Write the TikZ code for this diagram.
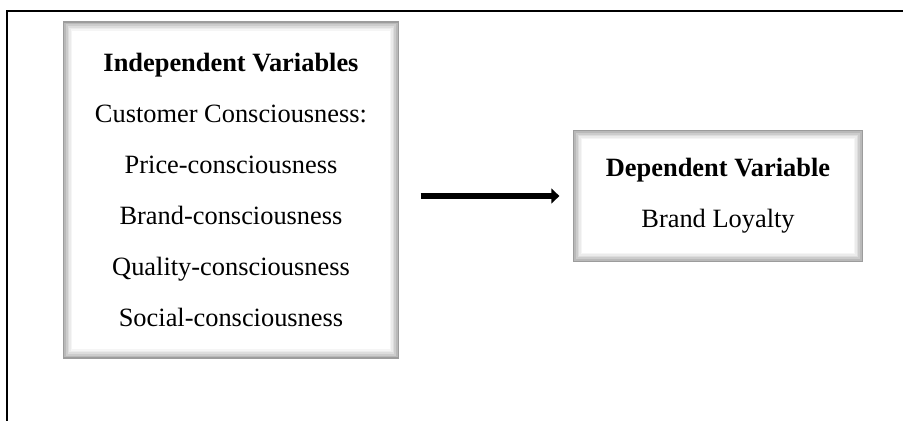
\documentclass[tikz,border=0pt]{standalone}
\usepackage{fontspec}
\setmainfont{Liberation Serif}
\usetikzlibrary{positioning,calc,arrows.meta}

\begin{document}
\begin{tikzpicture}[x=0.75pt, y=-0.75pt,
    var block/.style={rectangle, fill=white, inner sep=0pt, align=center,
        font=\fontsize{19.8pt}{38.25pt}\selectfont},
    link arrow/.style={-{Triangle[length=6pt, width=11pt]}, line width=5pt,
        shorten <=16pt, shorten >=10pt}]
    \useasboundingbox (0,0) rectangle (903,421);
    % outer frame, cut off on the right and bottom
    \draw[line width=1.5pt] (7,421) -- (7,11) -- (903,11);

    \node[var block, minimum width=252pt, minimum height=252.75pt] (indep) at (231,190)
        {\textbf{Independent Variables}\\ Customer Consciousness:\\ Price-consciousness\\
         Brand-consciousness\\ Quality-consciousness\\ Social-consciousness};
    \node[var block, minimum width=217.5pt, minimum height=99pt] (dep) at (718,196)
        {\textbf{Dependent Variable}\\ Brand Loyalty};

    % bevelled grey frames
    \foreach \n in {indep,dep}
        \foreach \k/\c in {0.6/78,1.8/55,3.0/40,4.2/27,5.4/16,6.6/8}
            \draw[gray!\c, line width=1.2pt] ([shift={(\k pt,-\k pt)}]\n.north west)
                rectangle ([shift={(-\k pt,\k pt)}]\n.south east);

    \draw[link arrow] (indep.east |- dep.west) -- (dep.west);
\end{tikzpicture}
\end{document}
